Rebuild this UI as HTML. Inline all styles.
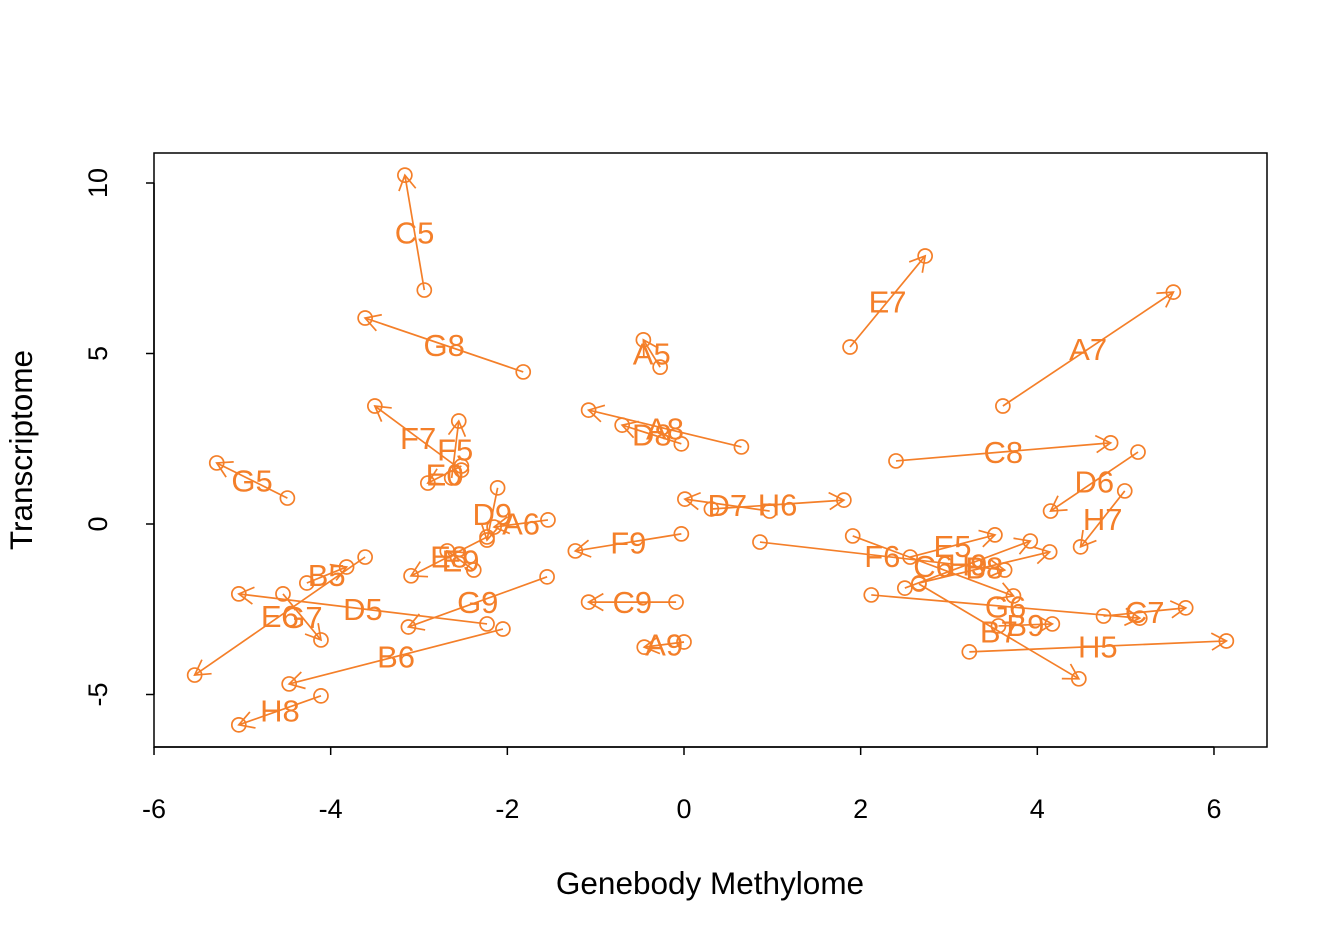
<!DOCTYPE html>
<html><head><meta charset="utf-8"><style>
html,body{margin:0;padding:0;background:#fff;}
svg{display:block;font-family:"Liberation Sans",sans-serif;}
</style></head><body>
<svg id="chart" width="1344" height="940" viewBox="0 0 1344 940">
<rect x="154" y="153" width="1113" height="594" fill="none" stroke="#000" stroke-width="1.5"/>
<g id="axes"></g>
<g id="marks"></g>
<text x="710" y="894" font-size="31.5" text-anchor="middle">Genebody Methylome</text>
<text transform="translate(32,450) rotate(-90)" font-size="31.5" text-anchor="middle">Transcriptome</text>
</svg>
<script>
const labels = ["C5","G8","E7","A7","A5","A8","D8","F7","F5","E0","G5","C8","D6","H7","D7","H6","D9","A6","F9","E8","E9","B5","E6","G7","D5","G9","B6","H8","C9","A9","H5","C7","G6","B9","B7","F6","H9","B8","C6","E5"];
const x0 = [-2.94,-1.82,1.88,3.61,-0.27,0.65,-0.03,-2.52,-2.63,-2.52,-4.49,2.40,5.14,4.99,0.97,0.31,-2.11,-1.54,-0.03,-2.23,-2.38,-4.27,-3.61,-4.54,-2.23,-1.55,-2.05,-4.11,-0.09,0.00,3.23,4.75,2.12,3.56,2.66,0.86,2.50,2.66,1.91,2.56];
const y0 = [6.86,4.46,5.19,3.46,4.60,2.26,2.35,1.58,1.35,1.70,0.76,1.85,2.11,0.97,0.38,0.44,1.06,0.12,-0.29,-0.38,-1.35,-1.73,-0.97,-2.05,-2.93,-1.55,-3.08,-5.04,-2.29,-3.46,-3.75,-2.70,-2.08,-2.99,-1.76,-0.53,-1.88,-1.73,-0.35,-0.97];
const x1 = [-3.16,-3.61,2.73,5.54,-0.46,-1.08,-0.70,-3.50,-2.55,-2.90,-5.29,4.83,4.15,4.49,0.01,1.81,-2.23,-2.15,-1.23,-3.09,-2.68,-3.82,-5.54,-4.11,-5.04,-3.12,-4.47,-5.04,-1.08,-0.45,6.14,5.68,5.16,4.17,4.47,3.63,3.92,4.14,3.73,3.52];
const y1 = [10.23,6.04,7.86,6.80,5.40,3.34,2.90,3.46,3.02,1.20,1.79,2.38,0.38,-0.67,0.73,0.70,-0.47,-0.09,-0.79,-1.52,-0.79,-1.26,-4.43,-3.40,-2.05,-3.02,-4.69,-5.89,-2.29,-3.61,-3.43,-2.46,-2.76,-2.93,-4.54,-1.35,-0.50,-0.82,-2.11,-0.32];
const xTicks = [-6,-4,-2,0,2,4,6];
const yTicks = [-5,0,5,10];

const sx = v => 684 + v*88.33;
const sy = v => 524 - v*34.1;
const NS = "http://www.w3.org/2000/svg";
const col = "#F47F29";
function mk(tag, attrs, parent){const e=document.createElementNS(NS,tag);for(const k in attrs)e.setAttribute(k,attrs[k]);parent.appendChild(e);return e;}
const axes=document.getElementById("axes"), marks=document.getElementById("marks");

mk("line",{x1:sx(-6),x2:sx(6),y1:747,y2:747,stroke:"#000","stroke-width":1.5},axes);
mk("line",{x1:154,x2:154,y1:sy(-5),y2:sy(10),stroke:"#000","stroke-width":1.5},axes);
xTicks.forEach(t=>{
  const l=mk("line",{x1:sx(t),x2:sx(t),y1:747,y2:755,stroke:"#000","stroke-width":1.5},axes);
  
  
  const tx=mk("text",{x:sx(t),y:818,"font-size":27,"text-anchor":"middle"},axes);
  tx.textContent=t;
  
  
});
yTicks.forEach(t=>{
  const l=mk("line",{x1:146,x2:154,y1:sy(t),y2:sy(t),stroke:"#000","stroke-width":1.5},axes);
  
  
  const tx=mk("text",{transform:`translate(107,${sy(t)}) rotate(-90)`,"font-size":27,"text-anchor":"middle"},axes);
  tx.textContent=t;
  
  
});

labels.forEach((lab,i)=>{
  const ax=sx(x0[i]),ay=sy(y0[i]),bx=sx(x1[i]),by=sy(y1[i]);
  const g=mk("g",{},marks);
  
  
  mk("circle",{cx:ax,cy:ay,r:7,fill:"none",stroke:col,"stroke-width":1.7},g);
  mk("circle",{cx:bx,cy:by,r:7,fill:"none",stroke:col,"stroke-width":1.7},g);
  mk("line",{x1:ax,y1:ay,x2:bx,y2:by,stroke:col,"stroke-width":1.7},g);
  const ang=Math.atan2(by-ay,bx-ax),L=17,a=Math.PI/6;
  const p1=[bx-L*Math.cos(ang-a),by-L*Math.sin(ang-a)],p2=[bx-L*Math.cos(ang+a),by-L*Math.sin(ang+a)];
  mk("polyline",{points:`${p1[0]},${p1[1]} ${bx},${by} ${p2[0]},${p2[1]}`,fill:"none",stroke:col,"stroke-width":1.7},g);
  const t=mk("text",{x:(ax+bx)/2,y:(ay+by)/2+11,"font-size":31,"text-anchor":"middle",fill:col},g);
  t.textContent=lab;
  
  
});
</script>
</body></html>
